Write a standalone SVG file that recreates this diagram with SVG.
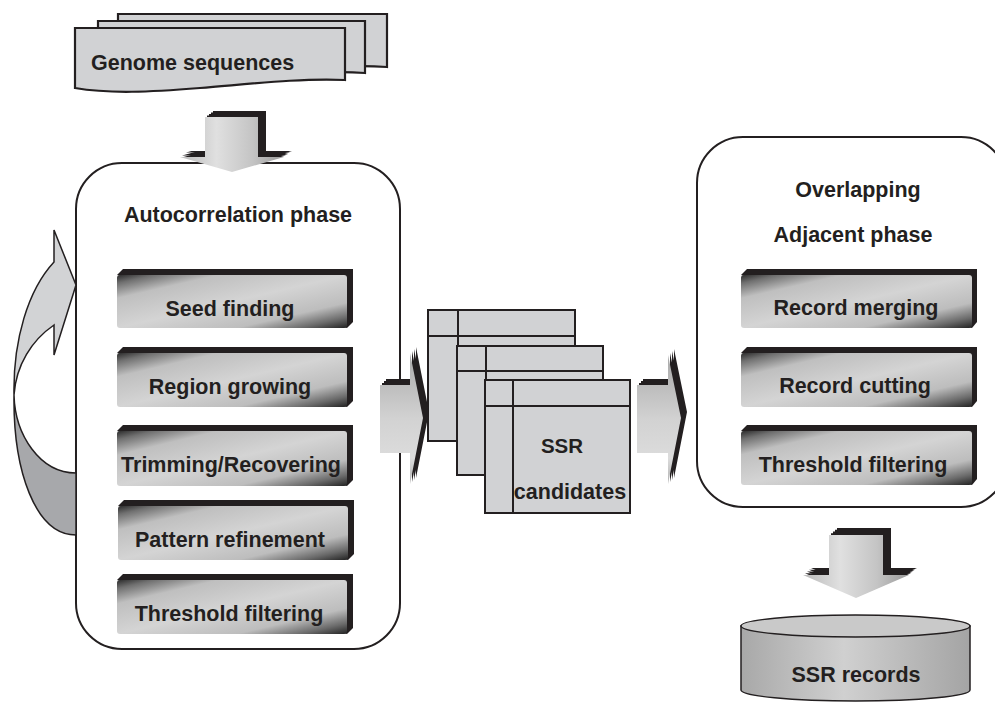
<svg xmlns="http://www.w3.org/2000/svg" xmlns:xlink="http://www.w3.org/1999/xlink" width="995" height="702" viewBox="0 0 995 702">
<defs>
<style>
text{font-family:"Liberation Sans",Arial,sans-serif;font-weight:bold;font-size:21.5px;fill:#231f20}
.mid{text-anchor:middle}
.frame{fill:#fff;stroke:#231f20;stroke-width:2}
.doc{fill:#d1d2d4;stroke:#231f20;stroke-width:2.2}
.tbl{fill:#d1d2d4;stroke:#231f20;stroke-width:2}
.tline{stroke:#231f20;stroke-width:2;fill:none}
.shadow{fill:#231f20}
.pbox{fill:url(#boxg)}
.loop{stroke:#231f20;stroke-width:1.5}
</style>
<linearGradient id="boxg" x1="0" y1="0" x2="1" y2="1">
<stop offset="0" stop-color="#2b2b2b"/>
<stop offset="0.08" stop-color="#707070"/>
<stop offset="0.22" stop-color="#bfbfbf"/>
<stop offset="0.5" stop-color="#d4d4d4"/>
<stop offset="0.76" stop-color="#bdbdbd"/>
<stop offset="0.9" stop-color="#6a6a6a"/>
<stop offset="1" stop-color="#222"/>
</linearGradient>
<linearGradient id="vdown" x1="0" y1="0" x2="1" y2="0">
<stop offset="0" stop-color="#b9b9b9"/>
<stop offset="0.35" stop-color="#e0e0e0"/>
<stop offset="0.7" stop-color="#c4c4c4"/>
<stop offset="1" stop-color="#9a9a9a"/>
</linearGradient>
<linearGradient id="hright" x1="0" y1="0" x2="0" y2="1">
<stop offset="0" stop-color="#a9a9a9"/>
<stop offset="0.5" stop-color="#d2d2d2"/>
<stop offset="0.8" stop-color="#dcdcdc"/>
<stop offset="1" stop-color="#b0b0b0"/>
</linearGradient>
<linearGradient id="cyl" x1="0" y1="0" x2="1" y2="0">
<stop offset="0" stop-color="#a8a8a8"/>
<stop offset="0.45" stop-color="#d0d0d0"/>
<stop offset="1" stop-color="#a4a4a4"/>
</linearGradient>
<polygon id="a1" points="205,117 258,117 258,157 284,157 232,172 180,157 205,157"/>
<polygon id="a2" points="829,535 883,535 883,575 909,575 856,598 803,575 829,575"/>
<polygon id="a3" points="380,385 410,385 410,353 423,418 410,484 410,453 380,453"/>
<polygon id="a4" points="637,385 668,385 668,355 681,418 668,484 668,453 637,453"/>
</defs>
<rect width="995" height="702" fill="#fff"/>

<g id="genome-sequences">
<path class="doc" d="M118,14 H387 V67 C340,64 300,70 250,74 L118,74 Z"/>
<path class="doc" d="M98,21 H365 V73 C320,70 280,76 230,80 L98,80 Z"/>
<path class="doc" d="M75,28 H345 V80 C300,78 250,84 200,88 C150,92 110,94 75,88 Z"/>
<text x="91" y="70">Genome sequences</text>
</g>

<g id="autocorrelation-phase">
<rect class="frame" x="76" y="163" width="324" height="486" rx="46" ry="46"/>
<text class="mid" x="238" y="222">Autocorrelation phase</text>
</g>

<g id="seed-finding">
<polygon class="shadow" points="117,275 123,269 353,269 353,322 347,328"/>
<rect class="pbox" x="117" y="275" width="230" height="53" rx="3"/>
<text class="mid" x="230" y="316">Seed finding</text>
</g>
<g id="region-growing">
<polygon class="shadow" points="117,353 123,347 353,347 353,401 347,407"/>
<rect class="pbox" x="117" y="353" width="230" height="54" rx="3"/>
<text class="mid" x="230" y="394">Region growing</text>
</g>
<g id="trimming-recovering">
<polygon class="shadow" points="117,431 123,425 353,425 353,480 347,486"/>
<rect class="pbox" x="117" y="431" width="230" height="55" rx="3"/>
<text class="mid" x="231" y="472">Trimming/Recovering</text>
</g>
<g id="pattern-refinement">
<polygon class="shadow" points="118,506 124,500 354,500 354,554 348,560"/>
<rect class="pbox" x="118" y="506" width="230" height="54" rx="3"/>
<text class="mid" x="230" y="547">Pattern refinement</text>
</g>
<g id="threshold-filtering-1">
<polygon class="shadow" points="117,580 123,574 353,574 353,628 347,634"/>
<rect class="pbox" x="117" y="580" width="230" height="54" rx="3"/>
<text class="mid" x="229" y="621">Threshold filtering</text>
</g>

<g id="ssr-candidates">
<rect class="tbl" x="428" y="310" width="147" height="131"/>
<line class="tline" x1="458" y1="310" x2="458" y2="441"/>
<line class="tline" x1="428" y1="336" x2="575" y2="336"/>
<rect class="tbl" x="457" y="346" width="146" height="129"/>
<line class="tline" x1="486" y1="346" x2="486" y2="475"/>
<line class="tline" x1="457" y1="371" x2="603" y2="371"/>
<rect class="tbl" x="485" y="380" width="145" height="133"/>
<line class="tline" x1="513" y1="380" x2="513" y2="513"/>
<line class="tline" x1="485" y1="406" x2="630" y2="406"/>
<text class="mid" x="562" y="453" style="font-size:20.5px">SSR</text>
<text class="mid" x="570" y="499">candidates</text>
</g>

<g id="adjacent-phase">
<rect class="frame" x="697" y="137" width="310" height="370" rx="46" ry="46"/>
<text class="mid" x="858" y="197">Overlapping</text>
<text class="mid" x="853" y="242">Adjacent phase</text>
</g>

<g id="record-merging">
<polygon class="shadow" points="741,275 747,269 977,269 977,322 972,328"/>
<rect class="pbox" x="741" y="275" width="231" height="53" rx="3"/>
<text class="mid" x="856" y="315">Record merging</text>
</g>
<g id="record-cutting">
<polygon class="shadow" points="741,353 747,347 977,347 977,401 972,407"/>
<rect class="pbox" x="741" y="353" width="231" height="54" rx="3"/>
<text class="mid" x="855" y="393">Record cutting</text>
</g>
<g id="threshold-filtering-2">
<polygon class="shadow" points="741,431 747,425 977,425 977,479 972,485"/>
<rect class="pbox" x="741" y="431" width="231" height="54" rx="3"/>
<text class="mid" x="853" y="472">Threshold filtering</text>
</g>

<g id="ssr-records">
<path d="M741,626 V690 A114.5,11 0 0 0 970,690 V626 Z" fill="url(#cyl)" stroke="#231f20" stroke-width="1.5"/>
<ellipse cx="855.5" cy="626" rx="114.5" ry="11" fill="#c9c9c9" stroke="#231f20" stroke-width="1.5"/>
<text class="mid" x="856" y="682">SSR records</text>
</g>

<g id="connectors">
<g id="loop-arrow">
<path class="loop" fill="#d2d3d5" d="M54,262 L54,230 L76,285 L54,355 L54,325 C32,340 16,365 14,395 C13,340 28,290 54,262 Z"/>
<path class="loop" fill="#a7a8ab" d="M14,395 C15,435 40,473 76,473 L76,535 C35,535 13,470 14,395 Z"/>
</g>
<g id="arrow-genome-to-auto">
<use xlink:href="#a1" class="shadow" transform="translate(2,-1.5)"/>
<use xlink:href="#a1" class="shadow" transform="translate(4,-3)"/>
<use xlink:href="#a1" class="shadow" transform="translate(6,-4.5)"/>
<use xlink:href="#a1" class="shadow" transform="translate(8,-6)"/>
<use xlink:href="#a1" fill="url(#vdown)"/>
</g>
<g id="arrow-auto-to-candidates">
<use xlink:href="#a3" class="shadow" transform="translate(2,-2)"/>
<use xlink:href="#a3" class="shadow" transform="translate(4,-4)"/>
<use xlink:href="#a3" class="shadow" transform="translate(6,-6)"/>
<use xlink:href="#a3" fill="url(#hright)"/>
</g>
<g id="arrow-candidates-to-adjacent">
<use xlink:href="#a4" class="shadow" transform="translate(2,-2)"/>
<use xlink:href="#a4" class="shadow" transform="translate(4,-4)"/>
<use xlink:href="#a4" class="shadow" transform="translate(6,-6)"/>
<use xlink:href="#a4" fill="url(#hright)"/>
</g>
<g id="arrow-adjacent-to-records">
<use xlink:href="#a2" class="shadow" transform="translate(2,-1.75)"/>
<use xlink:href="#a2" class="shadow" transform="translate(4,-3.5)"/>
<use xlink:href="#a2" class="shadow" transform="translate(6,-5.25)"/>
<use xlink:href="#a2" class="shadow" transform="translate(8,-7)"/>
<use xlink:href="#a2" fill="url(#vdown)"/>
</g>
</g>
</svg>
